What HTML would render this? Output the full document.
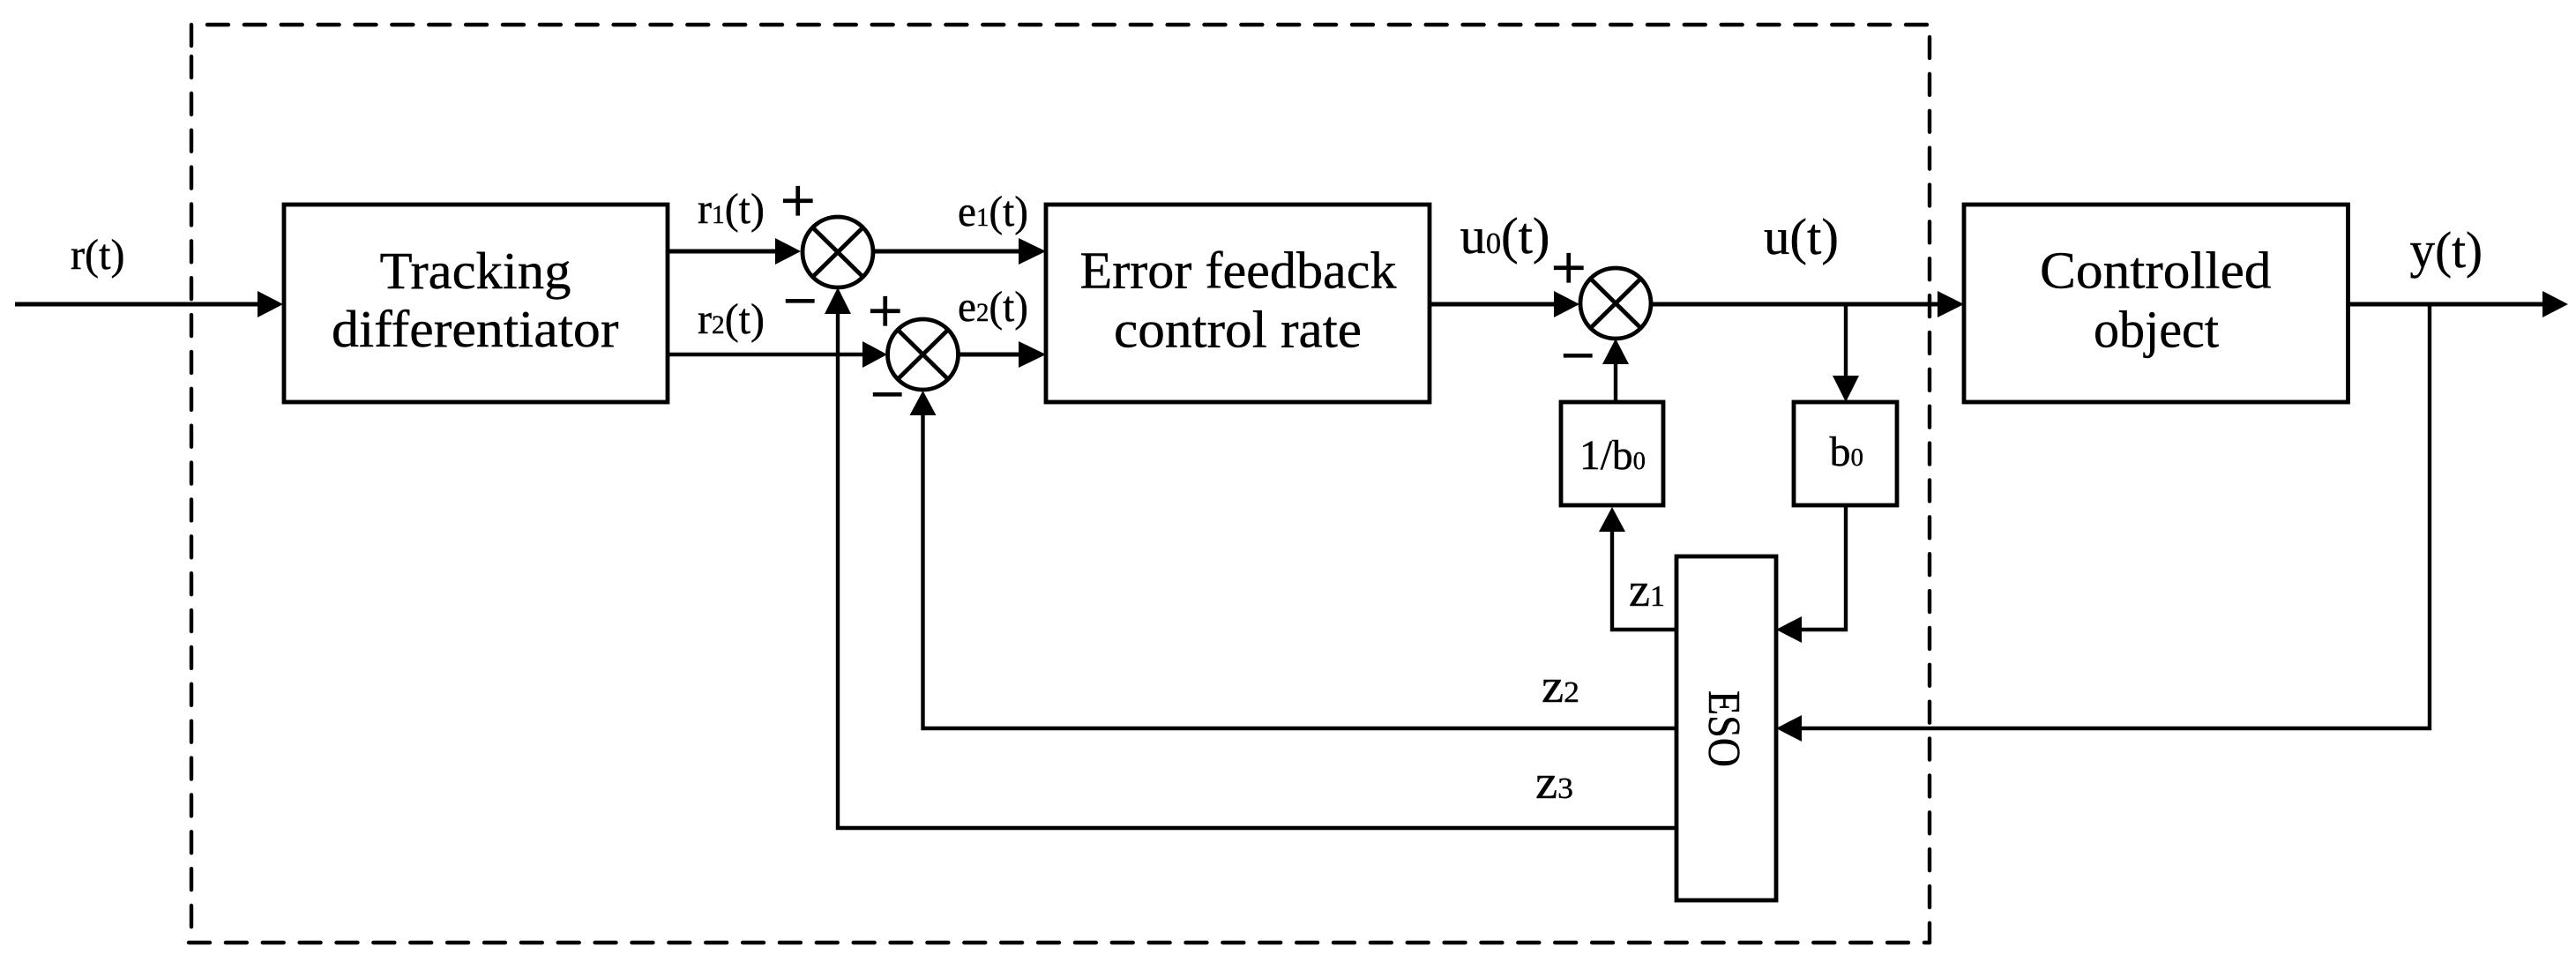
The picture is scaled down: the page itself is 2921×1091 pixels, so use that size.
<!DOCTYPE html>
<html><head><meta charset="utf-8"><style>
html,body{margin:0;padding:0;background:#fff}
svg{display:block}
text{font-family:"Liberation Serif",serif;fill:#000;stroke:#000;stroke-width:.4}
.b{font-size:59px}
.l{font-size:49px}
.m{font-size:58px}
.s{stroke-width:1.2;font-size:70px}
.n{stroke-width:1.2;font-size:68px}
</style></head><body>
<svg width="2921" height="1091" viewBox="0 0 2921 1091" xmlns="http://www.w3.org/2000/svg">
<rect width="2921" height="1091" fill="#fff"/>
<!-- dashed frame -->
<g fill="none" stroke="#000" stroke-width="4.4" stroke-linecap="round" stroke-dasharray="24 17.87">
<path d="M235 28H2188"/>
<path d="M217 64V1056"/>
<path d="M2188 42V1069"/>
<path d="M214 1069H2188"/>
</g>
<path d="M217 28V52" stroke="#000" stroke-width="4.4" stroke-linecap="round"/>
<!-- boxes -->
<g fill="#fff" stroke="#000" stroke-width="4.8">
<rect x="322" y="232" width="435" height="224"/>
<rect x="1186" y="232" width="435" height="224"/>
<rect x="2227" y="232" width="435.5" height="224"/>
<rect x="1770" y="456" width="116" height="117"/>
<rect x="2034" y="456" width="117" height="117"/>
<rect x="1901" y="631" width="113" height="390"/>
</g>
<!-- connectors -->
<g fill="none" stroke="#000" stroke-width="4.4">
<path d="M17 345H295" stroke-width="5"/>
<path d="M757 285H882" stroke-width="5"/>
<path d="M757 402H982"/>
<path d="M991 285H1158" stroke-width="5"/>
<path d="M1087 402H1158" stroke-width="5"/>
<path d="M1621 345H1765" stroke-width="5"/>
<path d="M1872 345H2200" stroke-width="5"/>
<path d="M2662 345H2886" stroke-width="5"/>
<path d="M2093 345V429"/>
<path d="M2093 573V714H2040"/>
<path d="M1832 456V410"/>
<path d="M1901 714H1828V600"/>
<path d="M1901 826H1046.5V468"/>
<path d="M1901 939H950V353"/>
<path d="M2755 345V826H2040"/>
</g>
<!-- arrowheads -->
<g fill="#000">
<path d="M321 345L292 330V360Z"/>
<path d="M908 285L879 270V300Z"/>
<path d="M1006 402L978 387V417Z"/>
<path d="M1186 285L1155 270V300Z"/>
<path d="M1186 402L1155 387V417Z"/>
<path d="M1791 345L1762 330V360Z"/>
<path d="M2227 345L2197 330V360Z"/>
<path d="M2912 345L2883 330V360Z"/>
<path d="M950 326L935 356H965Z"/>
<path d="M1046.5 443L1031.5 471H1061.5Z"/>
<path d="M1832 384L1817 413H1847Z"/>
<path d="M1828 575L1813 603H1843Z"/>
<path d="M2093 456L2078 426H2108Z"/>
<path d="M2014 714L2043 699V729Z"/>
<path d="M2014 826L2043 811V841Z"/>
</g>
<!-- summing junctions -->
<g fill="#fff" stroke="#000" stroke-width="4.8">
<ellipse cx="950" cy="286" rx="40" ry="40"/>
<path d="M921.5 258L978.5 314M978.5 258L921.5 314" fill="none"/>
<ellipse cx="1046.5" cy="402" rx="40" ry="40"/>
<path d="M1018 374L1075 430M1075 374L1018 430" fill="none"/>
<ellipse cx="1832" cy="344" rx="40" ry="40"/>
<path d="M1803.5 316L1860.5 372M1860.5 316L1803.5 372" fill="none"/>
</g>
<!-- signs -->
<text class="s" x="885" y="251">+</text>
<text class="s" x="984" y="376">+</text>
<text class="s" x="1759" y="327">+</text>
<text class="n" x="888" y="364">−</text>
<text class="n" x="987" y="470">−</text>
<text class="n" x="1770" y="426">−</text>
<!-- block labels -->
<text class="b" x="430.5" y="327" textLength="217" lengthAdjust="spacingAndGlyphs">Tracking</text>
<text class="b" x="376" y="393" textLength="325.5" lengthAdjust="spacingAndGlyphs">differentiator</text>
<text class="b" x="1224.5" y="326.5" textLength="359" lengthAdjust="spacingAndGlyphs">Error feedback</text>
<text class="b" x="1263" y="393.5" textLength="281" lengthAdjust="spacingAndGlyphs">control rate</text>
<text class="b" x="2313" y="326.5" textLength="262.5" lengthAdjust="spacingAndGlyphs">Controlled</text>
<text class="b" x="2374" y="393.5" textLength="142" lengthAdjust="spacingAndGlyphs">object</text>
<text style="font-size:52px" transform="translate(1938 783) rotate(90)" textLength="87" lengthAdjust="spacingAndGlyphs">ESO</text>
<!-- signal labels -->
<text class="l" x="80" y="305" textLength="61.5" lengthAdjust="spacingAndGlyphs">r(t)</text>
<text class="l" x="791" y="253" textLength="76" lengthAdjust="spacingAndGlyphs">r<tspan style="font-size:30px">1</tspan>(t)</text>
<text class="l" x="791" y="378" textLength="76" lengthAdjust="spacingAndGlyphs">r<tspan style="font-size:30px">2</tspan>(t)</text>
<text class="l" x="1086" y="256" textLength="80" lengthAdjust="spacingAndGlyphs">e<tspan style="font-size:30px">1</tspan>(t)</text>
<text class="l" x="1086" y="364" textLength="80" lengthAdjust="spacingAndGlyphs">e<tspan style="font-size:30px">2</tspan>(t)</text>
<text class="m" x="1655.5" y="287" textLength="102" lengthAdjust="spacingAndGlyphs">u<tspan style="font-size:34px">0</tspan>(t)</text>
<text class="m" x="2000" y="288" textLength="85" lengthAdjust="spacingAndGlyphs">u(t)</text>
<text class="m" x="2732.5" y="303" textLength="82.5" lengthAdjust="spacingAndGlyphs">y(t)</text>
<text style="font-size:48px" x="1791" y="532" textLength="75" lengthAdjust="spacingAndGlyphs">1/b<tspan style="font-size:29px">0</tspan></text>
<text style="font-size:48px" x="2074.5" y="528" textLength="38.5" lengthAdjust="spacingAndGlyphs">b<tspan style="font-size:29px">0</tspan></text>
<text style="font-size:54px" x="1847" y="687" textLength="41" lengthAdjust="spacingAndGlyphs">z<tspan style="font-size:34px">1</tspan></text>
<text style="font-size:54px" x="1748" y="796" textLength="43" lengthAdjust="spacingAndGlyphs">z<tspan style="font-size:34px">2</tspan></text>
<text style="font-size:54px" x="1741" y="905" textLength="43" lengthAdjust="spacingAndGlyphs">z<tspan style="font-size:34px">3</tspan></text>
</svg>
</body></html>
